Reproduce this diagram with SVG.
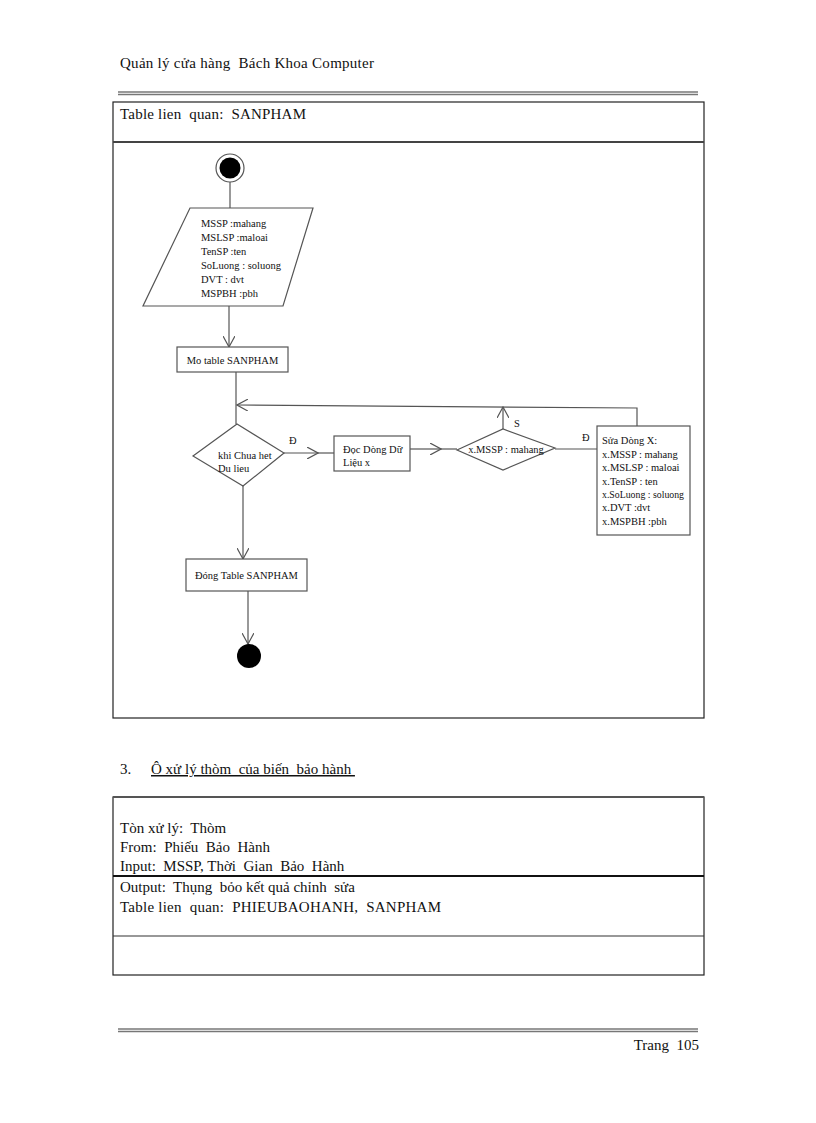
<svg xmlns="http://www.w3.org/2000/svg" width="816" height="1123" viewBox="0 0 816 1123">
<style>
text{font-family:"Liberation Serif","Times New Roman",serif;fill:#111;white-space:pre}
.pg{font-size:15px}
.dg{font-size:10.5px}
.sh{fill:#fff;stroke:#555;stroke-width:1.2}
.cn{fill:none;stroke:#555;stroke-width:1.2}
.tb{fill:none;stroke:#222;stroke-width:1.2}
</style>
<defs>
<marker id="ah" viewBox="0 0 12 12" refX="11" refY="6" markerWidth="12" markerHeight="12" markerUnits="userSpaceOnUse" orient="auto">
<path d="M0,0 L11,6 L0,12" fill="none" stroke="#555" stroke-width="1.2"/>
</marker>
</defs>
<rect width="816" height="1123" fill="#fff"/>

<g id="page-header">
<text class="pg" x="120" y="68" xml:space="preserve" textLength="254" lengthAdjust="spacing">Quản lý cửa hàng  Bách Khoa Computer</text>
<line x1="118" y1="92" x2="698" y2="92" stroke="#777" stroke-width="1.5"/>
<line x1="118" y1="94.5" x2="698" y2="94.5" stroke="#777" stroke-width="1.5"/>
</g>

<g id="upper-table">
<rect class="tb" x="113" y="102" width="591" height="616"/>
<line x1="113" y1="142" x2="704" y2="142" stroke="#444" stroke-width="2"/>
<text class="pg" x="120" y="119" xml:space="preserve" textLength="186" lengthAdjust="spacing">Table lien  quan:  SANPHAM</text>
</g>

<g id="connectors">
<line class="cn" x1="230" y1="182" x2="230" y2="208"/>
<line class="cn" x1="229" y1="306" x2="229" y2="347" marker-end="url(#ah)"/>
<line class="cn" x1="236" y1="372" x2="236" y2="424"/>
<polyline class="cn" points="637,426 637,408 237,405" marker-end="url(#ah)"/>
<line class="cn" x1="284" y1="453" x2="318" y2="453" marker-end="url(#ah)"/>
<line class="cn" x1="317" y1="453" x2="334" y2="453"/>
<line class="cn" x1="410" y1="449" x2="441" y2="449" marker-end="url(#ah)"/>
<line class="cn" x1="440" y1="449" x2="457" y2="449"/>
<line class="cn" x1="503" y1="429" x2="503" y2="407" marker-end="url(#ah)"/>
<line class="cn" x1="555" y1="449" x2="597" y2="449"/>
<line class="cn" x1="243" y1="486" x2="243" y2="559" marker-end="url(#ah)"/>
<line class="cn" x1="248" y1="591" x2="248" y2="644" marker-end="url(#ah)"/>
<text class="dg" x="289" y="444">Đ</text>
<text class="dg" x="514" y="427">S</text>
<text class="dg" x="582" y="441">Đ</text>
</g>

<g id="start">
<circle cx="230" cy="168" r="14" fill="#fff" stroke="#555" stroke-width="1.2"/>
<circle cx="230" cy="168" r="10.5" fill="#000"/>
</g>

<g id="input-params">
<polygon class="sh" points="190,208 313,208 283,306 143,306"/>
<text class="dg" x="201" y="227">MSSP :mahang</text>
<text class="dg" x="201" y="241">MSLSP :maloai</text>
<text class="dg" x="201" y="255">TenSP :ten</text>
<text class="dg" x="201" y="269">SoLuong : soluong</text>
<text class="dg" x="201" y="283">DVT : dvt</text>
<text class="dg" x="201" y="297">MSPBH :pbh</text>
</g>

<g id="open-table">
<rect class="sh" x="177" y="347" width="111" height="25"/>
<text class="dg" x="232.5" y="364" text-anchor="middle">Mo table SANPHAM</text>
</g>

<g id="loop-decision">
<polygon class="sh" points="193,456 237,424 284,453 243,486"/>
<text class="dg" x="218" y="459">khi Chua het</text>
<text class="dg" x="218" y="472">Du lieu</text>
</g>

<g id="read-row">
<rect class="sh" x="334" y="436" width="76" height="35"/>
<text class="dg" x="343" y="453">Đọc Dòng Dữ</text>
<text class="dg" x="343" y="466">Liệu x</text>
</g>

<g id="match-decision">
<polygon class="sh" points="457,450 503,429 555,448 503,470"/>
<text class="dg" x="506" y="453" text-anchor="middle">x.MSSP : mahang</text>
</g>

<g id="update-row">
<rect class="sh" x="597" y="426" width="93" height="109"/>
<text class="dg" x="602" y="444">Sửa Dòng X:</text>
<text class="dg" x="602" y="458">x.MSSP : mahang</text>
<text class="dg" x="602" y="471">x.MSLSP : maloai</text>
<text class="dg" x="602" y="485">x.TenSP : ten</text>
<text class="dg" x="602" y="498" textLength="82" lengthAdjust="spacingAndGlyphs">x.SoLuong : soluong</text>
<text class="dg" x="602" y="511">x.DVT :dvt</text>
<text class="dg" x="602" y="525">x.MSPBH :pbh</text>
</g>

<g id="close-table">
<rect class="sh" x="186" y="559" width="121" height="32"/>
<text class="dg" x="246.5" y="579" text-anchor="middle">Đóng Table SANPHAM</text>
</g>

<g id="end">
<circle cx="249" cy="656" r="12" fill="#000"/>
</g>

<g id="section-3">
<text class="pg" x="120" y="774">3.</text>
<text class="pg" x="151" y="774" text-decoration="underline" xml:space="preserve">Ô xử lý thòm  của biến  bảo hành </text>
</g>

<g id="lower-table">
<rect class="tb" x="113" y="797" width="591" height="178"/>
<line x1="113" y1="797" x2="704" y2="797" stroke="#555" stroke-width="2"/>
<line x1="113" y1="876" x2="704" y2="876" stroke="#111" stroke-width="2"/>
<line x1="113" y1="936" x2="704" y2="936" stroke="#333" stroke-width="1.2"/>
<text class="pg" x="120" y="833" xml:space="preserve">Tòn xử lý:  Thòm</text>
<text class="pg" x="120" y="852" xml:space="preserve">From:  Phiếu  Bảo  Hành</text>
<text class="pg" x="120" y="871" xml:space="preserve">Input:  MSSP, Thời  Gian  Bảo  Hành</text>
<text class="pg" x="120" y="892" xml:space="preserve">Output:  Thụng  bỏo kết quả chỉnh  sửa</text>
<text class="pg" x="120" y="912" xml:space="preserve" textLength="321" lengthAdjust="spacing">Table lien  quan:  PHIEUBAOHANH,  SANPHAM</text>
</g>

<g id="page-footer">
<line x1="118" y1="1029" x2="698" y2="1029" stroke="#777" stroke-width="1.5"/>
<line x1="118" y1="1031.5" x2="698" y2="1031.5" stroke="#777" stroke-width="1.5"/>
<text class="pg" x="699" y="1050" text-anchor="end" xml:space="preserve">Trang  105</text>
</g>
</svg>
